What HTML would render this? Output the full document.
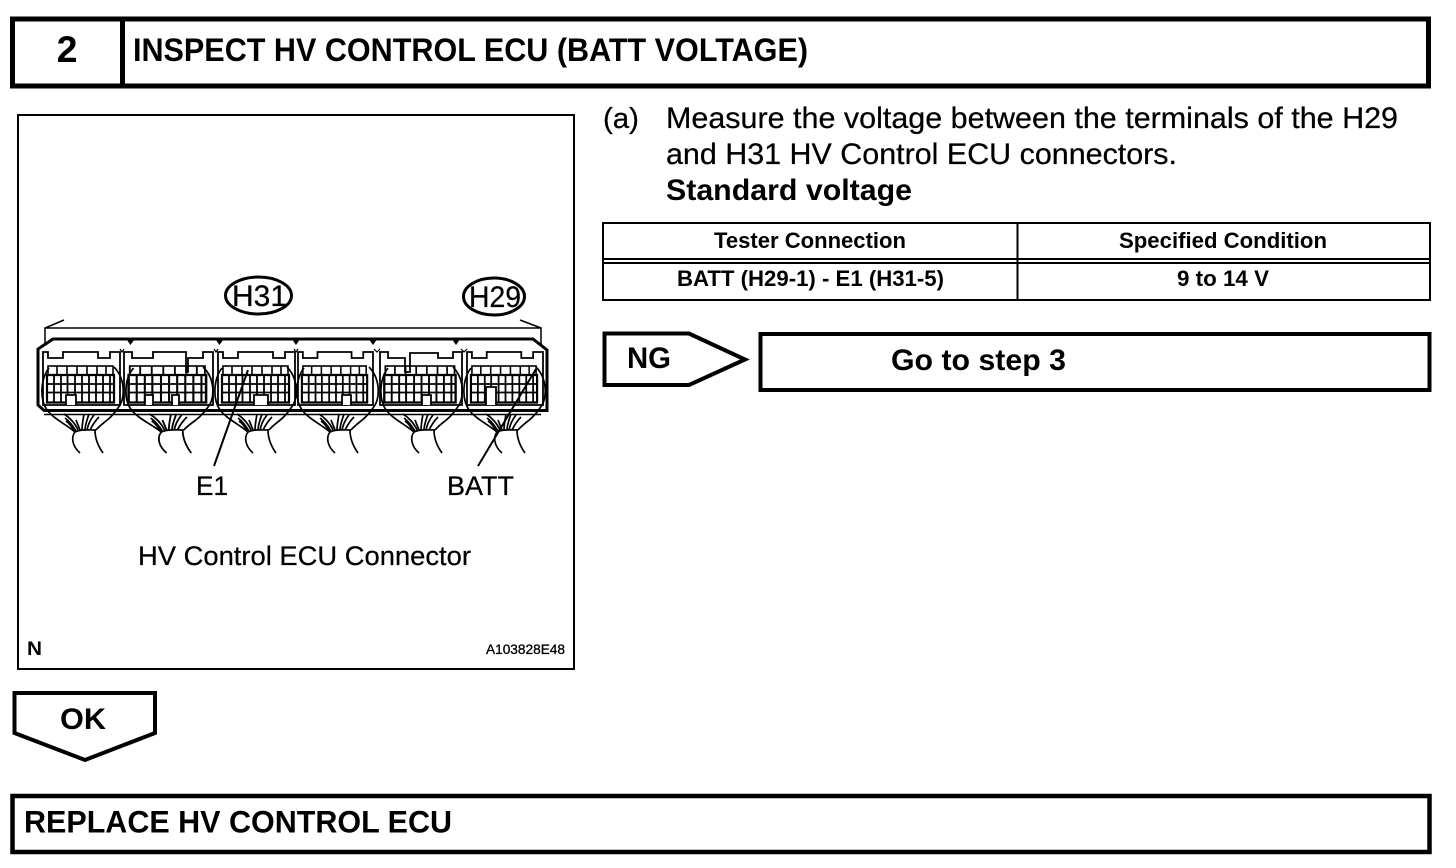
<!DOCTYPE html>
<html><head><meta charset="utf-8"><style>
html,body{margin:0;padding:0;background:#fff}
svg{display:block}
text{font-family:"Liberation Sans",Arial,sans-serif;fill:#000}
.b{font-weight:bold}
.r{stroke:#000;stroke-width:.25}
</style></head><body>
<svg width="1456" height="868" viewBox="0 0 1456 868" xmlns="http://www.w3.org/2000/svg">
<defs>
<g id="grid">
  <g fill="none" stroke="#000">
    <rect x="48" y="366" width="65" height="9" stroke-width="1.6"/>
    <path d="M57 366V375M67 366V375M77 366V375M87 366V375M97 366V375M106 366V375" stroke-width="1.6"/>
    <path d="M47 375H114V402.500H47Z" stroke-width="2.200"/>
    <path d="M47 384H114M47 392.500H114" stroke-width="1.800"/>
    <path d="M54 375V402M61 375V402M67.500 375V402M75 375V402M82 375V402M89 375V402M96 375V402M103 375V402M110 375V402" stroke-width="1.800"/>
  </g>
</g>
<path id="frame" d="M43 405V352H48V358H63V352H98V358H110V352H120V405Z" fill="none" stroke="#000" stroke-width="1.800"/>
<g id="wires" fill="none" stroke="#000" stroke-width="1.700">
  <path d="M49 368C41 378 39 398 47 410C54 419 64 423 75 432"/>
  <path d="M114 367C125 378 126 398 118 408C110 420 103 422 96 430"/>
  <path d="M75 432C71 437 72 446 80 453"/>
  <path d="M95 430C95 438 98 446 103 453"/>
  <path d="M75 432C81 429 90 430 96 430"/>
  <path d="M65 418C69 421 73 426 76 431M66 421C69 423 72 427 74 431M64 414C69 417 75 423 78 430M76 420L80 430M84 414C83 420 82 425 82 430M89 414C87 420 85 425 85 430M94 415C90 420 88 425 87 430M99 417C95 421 92 426 90 430"/>
</g>
</defs>

<!-- header -->
<rect x="12.500" y="19" width="1416" height="67" fill="none" stroke="#000" stroke-width="5"/>
<rect x="120" y="19" width="5" height="67"/>
<text class="b" x="67" y="62" font-size="37.500" text-anchor="middle">2</text>
<text class="b" x="133" y="61" font-size="32" textLength="675" lengthAdjust="spacingAndGlyphs">INSPECT HV CONTROL ECU (BATT VOLTAGE)</text>

<!-- figure box -->
<rect x="18" y="115" width="556" height="554" fill="none" stroke="#000" stroke-width="2"/>

<!-- ellipses -->
<ellipse cx="258.500" cy="295.500" rx="33" ry="18.500" fill="none" stroke="#000" stroke-width="3"/>
<text class="r" x="232" y="306" font-size="30" textLength="55" lengthAdjust="spacingAndGlyphs">H31</text>
<ellipse cx="494" cy="296.500" rx="30.500" ry="18.500" fill="none" stroke="#000" stroke-width="3"/>
<text class="r" x="469" y="307" font-size="30" textLength="52" lengthAdjust="spacingAndGlyphs">H29</text>

<!-- bracket -->
<path d="M64 320L45 328V344M45 328H541V345M541 328L520 320" fill="none" stroke="#000" stroke-width="1.500"/>

<!-- housing -->
<path d="M53 339H533L547 350V410.500H44L38 405V349Z" fill="none" stroke="#000" stroke-width="3"/>
<path d="M44 414.500H541" stroke="#000" stroke-width="1.500" fill="none"/>
<path d="M127 340H134L130.500 345ZM216 340H223L219.500 345ZM292.500 340H299.500L296 345ZM369.500 340H376.500L373 345ZM452.500 340H459.500L456 345Z"/>
<path d="M120 349L122 352L124 349M214 349L216 352L218 349M294 349L296 352L298 349M374 349L377 352L380 349M461 349L464 352L467 349" fill="none" stroke="#000" stroke-width="1.200"/>

<!-- connector units -->
<use href="#grid"/><use href="#frame"/>
<use href="#grid" transform="translate(124 0) scale(1.156 1) translate(-43 0)"/>
<use href="#grid" transform="translate(218 0) translate(-43 0)"/>
<use href="#frame" transform="translate(175 0)"/>
<use href="#grid" transform="translate(298 0) scale(.974 1) translate(-43 0)"/>
<use href="#frame" transform="translate(298 0) scale(.974 1) translate(-43 0)"/>
<use href="#grid" transform="translate(380 0) scale(1.065 1) translate(-43 0)"/>
<use href="#grid" transform="translate(467 0) scale(.987 1) translate(-43 0)"/>
<use href="#frame" transform="translate(467 0) scale(.987 1) translate(-43 0)"/>

<!-- custom frames -->
<path d="M124 405V352H132V358H153V352H186V372H188V358H203V352H213V405Z" fill="none" stroke="#000" stroke-width="1.800"/>
<path d="M380 405V352H388V358H405V372H410V353H438V358H453V352H462V405Z" fill="none" stroke="#000" stroke-width="1.800"/>

<!-- bottom bumps -->
<g fill="#fff" stroke="#000" stroke-width="1.800">
<path d="M66 405V395H76V405"/>
<path d="M145 405V395H153V405"/>
<path d="M172 405V395H179V405"/>
<path d="M254 405V395H268V405"/>
<path d="M342 405V395H351V405"/>
<path d="M422 405V395H431V405"/>
<path d="M486 405V387H496V405"/>
</g>

<!-- wires -->
<use href="#wires"/>
<use href="#wires" transform="translate(126 0) scale(1.07 1) translate(-42 0)"/>
<use href="#wires" transform="translate(173 0)"/>
<use href="#wires" transform="translate(255 0)"/>
<use href="#wires" transform="translate(339 0)"/>
<use href="#wires" transform="translate(422 0)"/>

<!-- leaders -->
<path d="M248 370L214 466M536 369L478 466" fill="none" stroke="#000" stroke-width="2"/>

<text class="r" x="196" y="495" font-size="27" textLength="32" lengthAdjust="spacingAndGlyphs">E1</text>
<text class="r" x="447" y="495" font-size="27" textLength="67" lengthAdjust="spacingAndGlyphs">BATT</text>
<text class="r" x="138" y="565" font-size="27" textLength="333" lengthAdjust="spacingAndGlyphs">HV Control ECU Connector</text>
<text class="b" x="27" y="655" font-size="19" textLength="15" lengthAdjust="spacingAndGlyphs">N</text>
<text x="486" y="654" font-size="14" stroke="#000" stroke-width="0.300" textLength="79" lengthAdjust="spacingAndGlyphs">A103828E48</text>

<!-- right text -->
<text class="r" x="603" y="128" font-size="29" textLength="36" lengthAdjust="spacingAndGlyphs">(a)</text>
<text class="r" x="666" y="128" font-size="29.500" textLength="732" lengthAdjust="spacingAndGlyphs">Measure the voltage between the terminals of the H29</text>
<text class="r" x="666" y="164" font-size="29.500" textLength="511" lengthAdjust="spacingAndGlyphs">and H31 HV Control ECU connectors.</text>
<text class="b" x="666" y="200" font-size="29.500" textLength="246" lengthAdjust="spacingAndGlyphs">Standard voltage</text>

<!-- table -->
<rect x="603" y="223" width="827" height="77" fill="none" stroke="#000" stroke-width="2"/>
<path d="M603 259H1430M603 263H1430M1017.500 223V300" fill="none" stroke="#000" stroke-width="2"/>
<text class="b" x="714" y="248" font-size="22" textLength="192" lengthAdjust="spacingAndGlyphs">Tester Connection</text>
<text class="b" x="1119" y="248" font-size="22" textLength="208" lengthAdjust="spacingAndGlyphs">Specified Condition</text>
<text class="b" x="677" y="286" font-size="22" textLength="267" lengthAdjust="spacingAndGlyphs">BATT (H29-1) - E1 (H31-5)</text>
<text class="b" x="1177" y="286" font-size="22" textLength="92" lengthAdjust="spacingAndGlyphs">9 to 14 V</text>

<!-- NG -->
<path d="M604.500 333.500H689L745 359.500L689 385H604.500Z" fill="none" stroke="#000" stroke-width="4"/>
<text class="b" x="627" y="368" font-size="30" textLength="44" lengthAdjust="spacingAndGlyphs">NG</text>
<rect x="760.500" y="334" width="669" height="56" fill="none" stroke="#000" stroke-width="4"/>
<text class="b" x="891" y="370" font-size="29.500" textLength="175" lengthAdjust="spacingAndGlyphs">Go to step 3</text>

<!-- OK -->
<path d="M14.500 693H155V733L85 760L14.500 733Z" fill="none" stroke="#000" stroke-width="4"/>
<text class="b" x="60" y="729" font-size="30" textLength="46" lengthAdjust="spacingAndGlyphs">OK</text>

<!-- replace -->
<rect x="12.500" y="796" width="1417" height="56" fill="none" stroke="#000" stroke-width="4.500"/>
<text class="b" x="24" y="832.500" font-size="31.500" textLength="428" lengthAdjust="spacingAndGlyphs">REPLACE HV CONTROL ECU</text>
</svg>
</body></html>
